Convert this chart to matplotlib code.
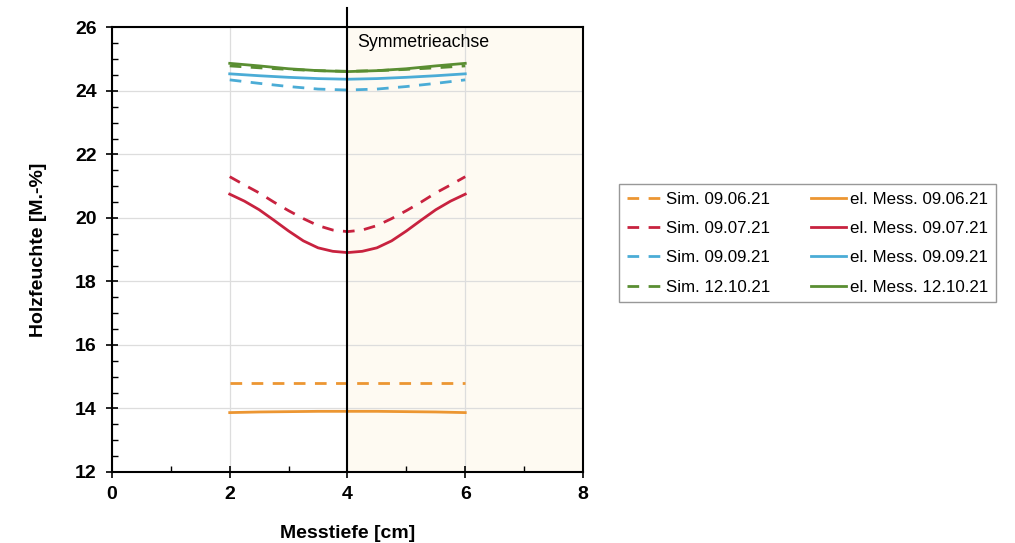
import matplotlib
matplotlib.use("Agg")
from matplotlib import pyplot as plt
from matplotlib.ticker import MultipleLocator

plt.rcParams['font.family'] = ['Liberation Sans', 'DejaVu Sans']

# Messtiefe [cm]
depth = [2, 2.5, 3, 3.5, 4, 4.5, 5, 5.5, 6]
depth_fine = [2, 2.25, 2.5, 2.75, 3, 3.25, 3.5, 3.75, 4,
              4.25, 4.5, 4.75, 5, 5.25, 5.5, 5.75, 6]

# Simulation (dashed)
sim_0906 = [14.79, 14.79, 14.79, 14.79, 14.79, 14.79, 14.79, 14.79, 14.79]
sim_0907 = [21.30, 21.04, 20.79, 20.50, 20.23, 19.98, 19.76, 19.62, 19.57,
            19.62, 19.76, 19.98, 20.23, 20.50, 20.79, 21.04, 21.30]
sim_0909 = [24.35, 24.24, 24.14, 24.06, 24.03, 24.06, 24.14, 24.24, 24.35]
sim_1210 = [24.79, 24.73, 24.68, 24.64, 24.62, 24.64, 24.68, 24.73, 24.79]

# elektrische Messung (solid)
mess_0906 = [13.87, 13.89, 13.90, 13.91, 13.91, 13.91, 13.90, 13.89, 13.87]
mess_0907 = [20.75, 20.53, 20.26, 19.93, 19.59, 19.28, 19.06, 18.95, 18.91,
             18.95, 19.06, 19.28, 19.59, 19.93, 20.26, 20.53, 20.75]
mess_0909 = [24.54, 24.48, 24.43, 24.39, 24.37, 24.39, 24.43, 24.48, 24.54]
mess_1210 = [24.87, 24.79, 24.70, 24.64, 24.61, 24.64, 24.70, 24.79, 24.87]

dates = ["09.06.21", "09.07.21", "09.09.21", "12.10.21"]
colors = ["#EC9632", "#C8223F", "#4BACD6", "#5A8E32"]
sims = [sim_0906, sim_0907, sim_0909, sim_1210]
messes = [mess_0906, mess_0907, mess_0909, mess_1210]

fig = plt.figure(figsize=(10.15, 5.43), dpi=100)
ax = fig.add_axes([0.1103, 0.1308, 0.4641, 0.8186])

ax.set_xlim(0, 8)
ax.set_ylim(12, 26)

# shaded half behind the symmetry axis
ax.axvspan(4, 8, color="#FEFAF2", zorder=0)

handles = []
for d, c, s in zip(dates, colors, sims):
    xs = depth_fine if len(s) == len(depth_fine) else depth
    h, = ax.plot(xs, s, color=c, lw=2.0, linestyle=(0, (4.2, 3.4)),
                 label="Sim. " + d, zorder=3, solid_joinstyle="round")
    handles.append(h)
for d, c, m in zip(dates, colors, messes):
    xs = depth_fine if len(m) == len(depth_fine) else depth
    h, = ax.plot(xs, m, color=c, lw=2.0, label="el. Mess. " + d, zorder=3,
                 solid_joinstyle="round")
    handles.append(h)

# Symmetrieachse
ax.plot([4, 4], [12, 26.61], color="black", lw=1.5, clip_on=False, zorder=4)
ax.text(4.16, 25.53, "Symmetrieachse", fontsize=12.8, ha="left", va="center")

ax.xaxis.set_major_locator(MultipleLocator(2))
ax.xaxis.set_minor_locator(MultipleLocator(1))
ax.yaxis.set_major_locator(MultipleLocator(2))
ax.yaxis.set_minor_locator(MultipleLocator(0.5))
ax.grid(which="major", color="#DDDDDD", lw=0.9, zorder=1)
ax.set_axisbelow(True)

ax.tick_params(which="major", direction="inout", length=8, width=1.2)
ax.tick_params(which="minor", direction="in", length=4, width=1.0)
for lbl in ax.get_xticklabels() + ax.get_yticklabels():
    lbl.set_fontweight("bold")
    lbl.set_fontsize(14)
ax.tick_params(axis="y", pad=7)
ax.tick_params(axis="x", pad=6)

for sp in ax.spines.values():
    sp.set_linewidth(1.5)
    sp.set_color("black")

ax.set_xlabel("Messtiefe [cm]", fontsize=14, fontweight="bold", labelpad=16)
ax.set_ylabel("Holzfeuchte [M.-%]", fontsize=14, fontweight="bold", labelpad=20)

leg = fig.legend(handles=handles, ncol=2, loc="upper left",
                 bbox_to_anchor=(0.61, 0.6606), borderaxespad=0,
                 fontsize=12.2, handlelength=2.1, handletextpad=0.2,
                 columnspacing=2.4, labelspacing=0.84, borderpad=0.45,
                 fancybox=False, frameon=True, edgecolor="#7F7F7F")
leg.get_frame().set_linewidth(1.0)

fig.savefig("out.png", dpi=100)
